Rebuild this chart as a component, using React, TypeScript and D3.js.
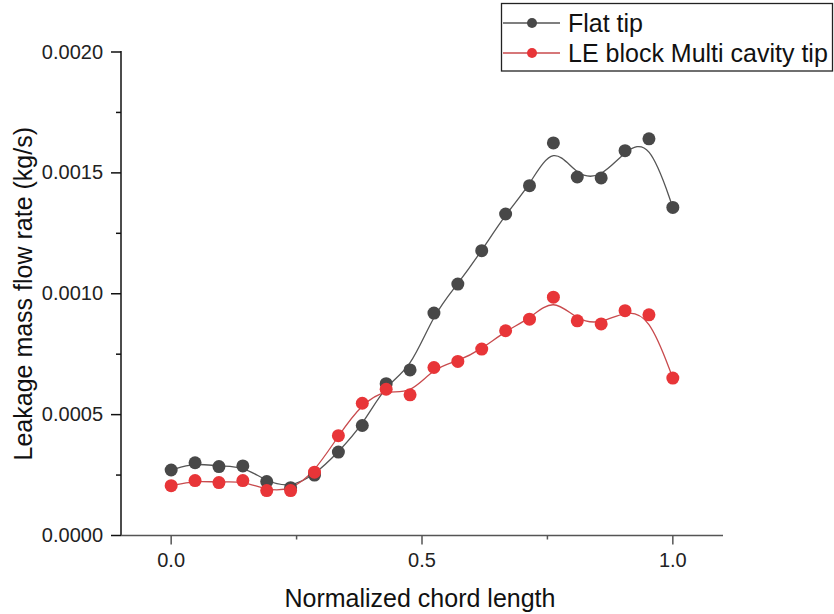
import React from "react";
import * as d3 from "d3";

const xPositions: number[] = Array.from({ length: 22 }, (_, i) => i / 21);
const flatTip: number[] = [
  0.000271, 0.000301, 0.000285, 0.000288, 0.000223, 0.000198, 0.00025, 0.000345,
  0.000455, 0.000628, 0.000685, 0.00092, 0.00104, 0.001178, 0.00133, 0.001447,
  0.001624, 0.001483, 0.001479, 0.001592, 0.001641, 0.001357,
];
const leBlock: number[] = [
  0.000206, 0.000227, 0.000219, 0.000227, 0.000186, 0.000186, 0.000262, 0.000413,
  0.000547, 0.000605, 0.000582, 0.000695, 0.00072, 0.000771, 0.000847, 0.000895,
  0.000986, 0.000888, 0.000875, 0.00093, 0.000913, 0.000651,
];
const xTicks: number[] = [0, 0.5, 1.0];
const xMinorTicks: number[] = [0.25, 0.75];
const yTicks: number[] = [0, 0.0005, 0.001, 0.0015, 0.002];
const yMinorTicks: number[] = [0.00025, 0.00075, 0.00125, 0.00175];
const seriesNames: string[] = ["Flat tip", "LE block Multi cavity tip"];

const FONT = "'Liberation Sans', Arial, sans-serif";

export default function App() {
  const W = 834, H = 614;
  const left = 121, right = 723, top = 52, bottom = 535.5;
  const x = d3.scaleLinear().domain([-0.1, 1.1]).range([left, right]);
  const y = d3.scaleLinear().domain([0, 0.002]).range([bottom, top]);

  const series = [
    { name: seriesNames[0], values: flatTip, marker: "#484848", line: "#555555" },
    { name: seriesNames[1], values: leBlock, marker: "#e83538", line: "#c84a4d" },
  ];

  const lineGen = d3
    .line<number>()
    .x((_, i) => x(xPositions[i]))
    .y((d) => y(d))
    .curve(d3.curveBasis);

  return (
    <svg
      width={W}
      height={H}
      style={{ position: "absolute", left: 0, top: 0, background: "#fff" }}
      fontFamily={FONT}
    >
      <rect x={0} y={0} width={W} height={H} fill="#fff" />
      {series.map((s) => (
        <path key={s.name + "l"} d={lineGen(s.values) || ""} fill="none" stroke={s.line} strokeWidth={1.3} />
      ))}
      {series.map((s) => (
        <g key={s.name + "m"}>
          {s.values.map((v, i) => (
            <circle key={i} cx={x(xPositions[i])} cy={y(v)} r={6.5} fill={s.marker} />
          ))}
        </g>
      ))}

      {/* y axis */}
      <line x1={left} x2={left} y1={top - 1} y2={bottom} stroke="#111" strokeWidth={1.5} />
      {yTicks.map((t) => (
        <g key={"yt" + t}>
          <line x1={left - 10} x2={left} y1={y(t)} y2={y(t)} stroke="#111" strokeWidth={1.5} />
          <text x={103} y={y(t) + 6.5} textAnchor="end" fontSize={20} fill="#222">
            {d3.format(".4f")(t)}
          </text>
        </g>
      ))}
      {yMinorTicks.map((t) => (
        <line key={"ym" + t} x1={left - 5} x2={left} y1={y(t)} y2={y(t)} stroke="#111" strokeWidth={1.5} />
      ))}

      {/* x axis */}
      <line x1={left} x2={right} y1={bottom} y2={bottom} stroke="#555" strokeWidth={1.5} />
      {xTicks.map((t) => (
        <g key={"xt" + t}>
          <line x1={x(t)} x2={x(t)} y1={bottom} y2={bottom + 9} stroke="#555" strokeWidth={1.5} />
          <text x={x(t)} y={567} textAnchor="middle" fontSize={20} fill="#222">
            {d3.format(".1f")(t)}
          </text>
        </g>
      ))}
      {xMinorTicks.map((t) => (
        <line key={"xm" + t} x1={x(t)} x2={x(t)} y1={bottom} y2={bottom + 4} stroke="#555" strokeWidth={1.5} />
      ))}

      {/* axis titles */}
      <text x={(left + right) / 2 - 2} y={607} textAnchor="middle" fontSize={25} fill="#111">
        Normalized chord length
      </text>
      <text
        transform={`translate(32, ${(top + bottom) / 2}) rotate(-90)`}
        textAnchor="middle"
        fontSize={25}
        fill="#111"
      >
        Leakage mass flow rate (kg/s)
      </text>

      {/* legend */}
      <rect x={501.5} y={3.5} width={331} height={67.5} fill="#fff" stroke="#222" strokeWidth={1.3} />
      {series.map((s, i) => {
        const ly = 23 + i * 30;
        return (
          <g key={s.name + "lg"}>
            <line x1={503} x2={560} y1={ly} y2={ly} stroke={s.line} strokeWidth={1.3} />
            <circle cx={532} cy={ly} r={5} fill={s.marker} />
            <text x={568} y={ly + 9} fontSize={25} fill="#111">
              {s.name}
            </text>
          </g>
        );
      })}
    </svg>
  );
}
